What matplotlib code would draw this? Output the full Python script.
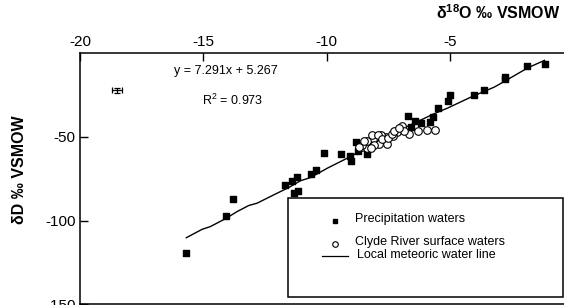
import matplotlib
matplotlib.use("Agg")
import matplotlib.pyplot as plt
from matplotlib.patches import Rectangle
from matplotlib.lines import Line2D

plt.rcParams['font.family'] = ['Liberation Sans', 'DejaVu Sans']

# Precipitation waters (filled squares)
precip_x = [-15.70, -14.07, -13.79, -11.70, -11.42, -11.22, -11.31, -11.17,
            -10.62, -10.43, -10.11, -9.40, -9.05, -9.02, -8.82, -8.75, -8.37,
            -6.70, -6.41, -6.18, -5.80, -5.70, -5.50, -5.07, -5.00,
            -4.01, -3.61, -2.79, -2.76, -1.88, -1.17, -6.60]
precip_y = [-119.6, -97.2, -87.2, -78.9, -76.2, -73.8, -83.6, -82.2,
            -72.3, -69.7, -59.7, -60.3, -61.7, -64.7, -53.1, -58.7, -60.1,
            -37.7, -40.3, -41.7, -41.1, -38.3, -32.7, -28.7, -25.1,
            -25.1, -22.2, -14.2, -15.7, -7.8, -6.8, -44.3]

# Clyde River surface waters (open circles)
river_x = [-5.61, -5.95, -6.31, -6.65, -6.96, -7.13, -7.33, -7.60, -7.80,
           -7.56, -7.87, -8.14, -8.24, -8.41, -8.58, -8.35, -8.17, -7.91,
           -7.74, -7.51, -7.37, -8.35, -8.55, -8.08, -8.21, -8.69, -8.48,
           -7.26, -6.86, -7.05]
river_y = [-46.1, -46.1, -46.7, -48.1, -43.7, -47.1, -49.7, -50.3, -48.7,
           -54.3, -54.3, -51.1, -54.7, -53.7, -56.3, -56.7, -49.1, -49.1,
           -51.1, -50.7, -48.3, -52.3, -54.7, -54.7, -56.7, -56.3, -52.3,
           -46.7, -46.7, -45.0]

# Local meteoric water line (as drawn)
lmwl_x = [-15.69, -15.05, -14.72, -14.07, -13.63, -13.16, -12.82, -12.14,
          -11.53, -11.06, -10.65, -9.97, -9.43, -9.02, -8.62, -8.21,
          -6.86, -5.64, -5.09, -4.15, -3.20, -2.65, -1.84, -1.17]
lmwl_y = [-110.2, -105.2, -103.6, -98.6, -94.6, -91.0, -89.6, -84.6,
          -80.2, -76.2, -74.3, -68.7, -64.7, -61.7, -58.3, -54.7,
          -44.7, -36.2, -32.8, -26.3, -20.3, -15.7, -8.8, -4.4]

# analytical precision symbol
err_x, err_y = [-18.5], [-22.2]
xticks = [-20, -15, -10, -5]
yticks = [-50, -100, -150]

fig = plt.figure(figsize=(5.64, 3.05), dpi=100)
ax = fig.add_axes([80/564, 0.6/305, 1 - 80/564, (304.4 - 53)/305])
ax.set_xlim(-20, -0.38)
ax.set_ylim(-150, 0)

ax.plot(lmwl_x, lmwl_y, color='black', lw=1.0)
ax.scatter(precip_x, precip_y, marker='s', s=13, color='black', zorder=3)
ax.scatter(river_x, river_y, marker='o', s=30, facecolor='white',
           edgecolor='black', linewidths=0.8, zorder=4)
ax.errorbar(err_x, err_y, xerr=0.2, yerr=1.5, fmt='none', ecolor='black',
            elinewidth=0.9, capsize=2.5, capthick=0.9)

ax.xaxis.tick_top()
ax.set_xticks(xticks)
ax.set_yticks(yticks)
ax.set_xticklabels([str(v) for v in xticks])
ax.set_yticklabels([str(v) for v in yticks])
ax.tick_params(direction='in', length=6, width=1, labelsize=11, pad=3)
ax.tick_params(axis='x', labeltop=True, labelbottom=False)
ax.spines['right'].set_visible(False)
for s in ['top', 'left', 'bottom']:
    ax.spines[s].set_linewidth(1.1)

ax.text(-14.1, -10.5, 'y = 7.291x + 5.267', fontsize=9, ha='center', va='center')
ax.text(-13.8, -28.5, r'R$^{\mathregular{2}}$ = 0.973', fontsize=9, ha='center', va='center')

fig.text(560/564, 1 - 13/305, r'δ$^{\mathregular{18}}$O ‰ VSMOW', fontsize=11.5,
         fontweight='bold', ha='right', va='center')
fig.text(20/564, 1 - 170/305, 'δD ‰ VSMOW', fontsize=11.5, fontweight='bold',
         rotation=90, ha='center', va='center')

# legend box
tr = ax.transAxes
def fx(px):
    return (px - 80) / (564 - 80)
def fy(py):
    return (304.4 - py) / (304.4 - 53)
box = Rectangle((fx(288), fy(297)), fx(563) - fx(288), fy(198) - fy(297),
                transform=tr, facecolor='white', edgecolor='black', lw=1.1,
                zorder=5, clip_on=False)
ax.add_patch(box)
ax.add_line(Line2D([fx(335)], [fy(221)], marker='s', markersize=3.5, color='black',
                   transform=tr, zorder=6, linestyle='none'))
ax.add_line(Line2D([fx(335)], [fy(244)], marker='o', markersize=4, markerfacecolor='white',
                   markeredgecolor='black', markeredgewidth=0.8, transform=tr, zorder=6,
                   linestyle='none'))
ax.add_line(Line2D([fx(322), fx(348)], [fy(256), fy(256)], color='black', lw=0.9,
                   transform=tr, zorder=6))
ax.text(fx(355), fy(219), 'Precipitation waters', transform=tr, fontsize=9,
        va='center', ha='left', zorder=6)
ax.text(fx(355), fy(242), 'Clyde River surface waters', transform=tr, fontsize=9,
        va='center', ha='left', zorder=6)
ax.text(fx(357), fy(255), 'Local meteoric water line', transform=tr, fontsize=9,
        va='center', ha='left', zorder=6)

fig.savefig('out.png', dpi=100)
